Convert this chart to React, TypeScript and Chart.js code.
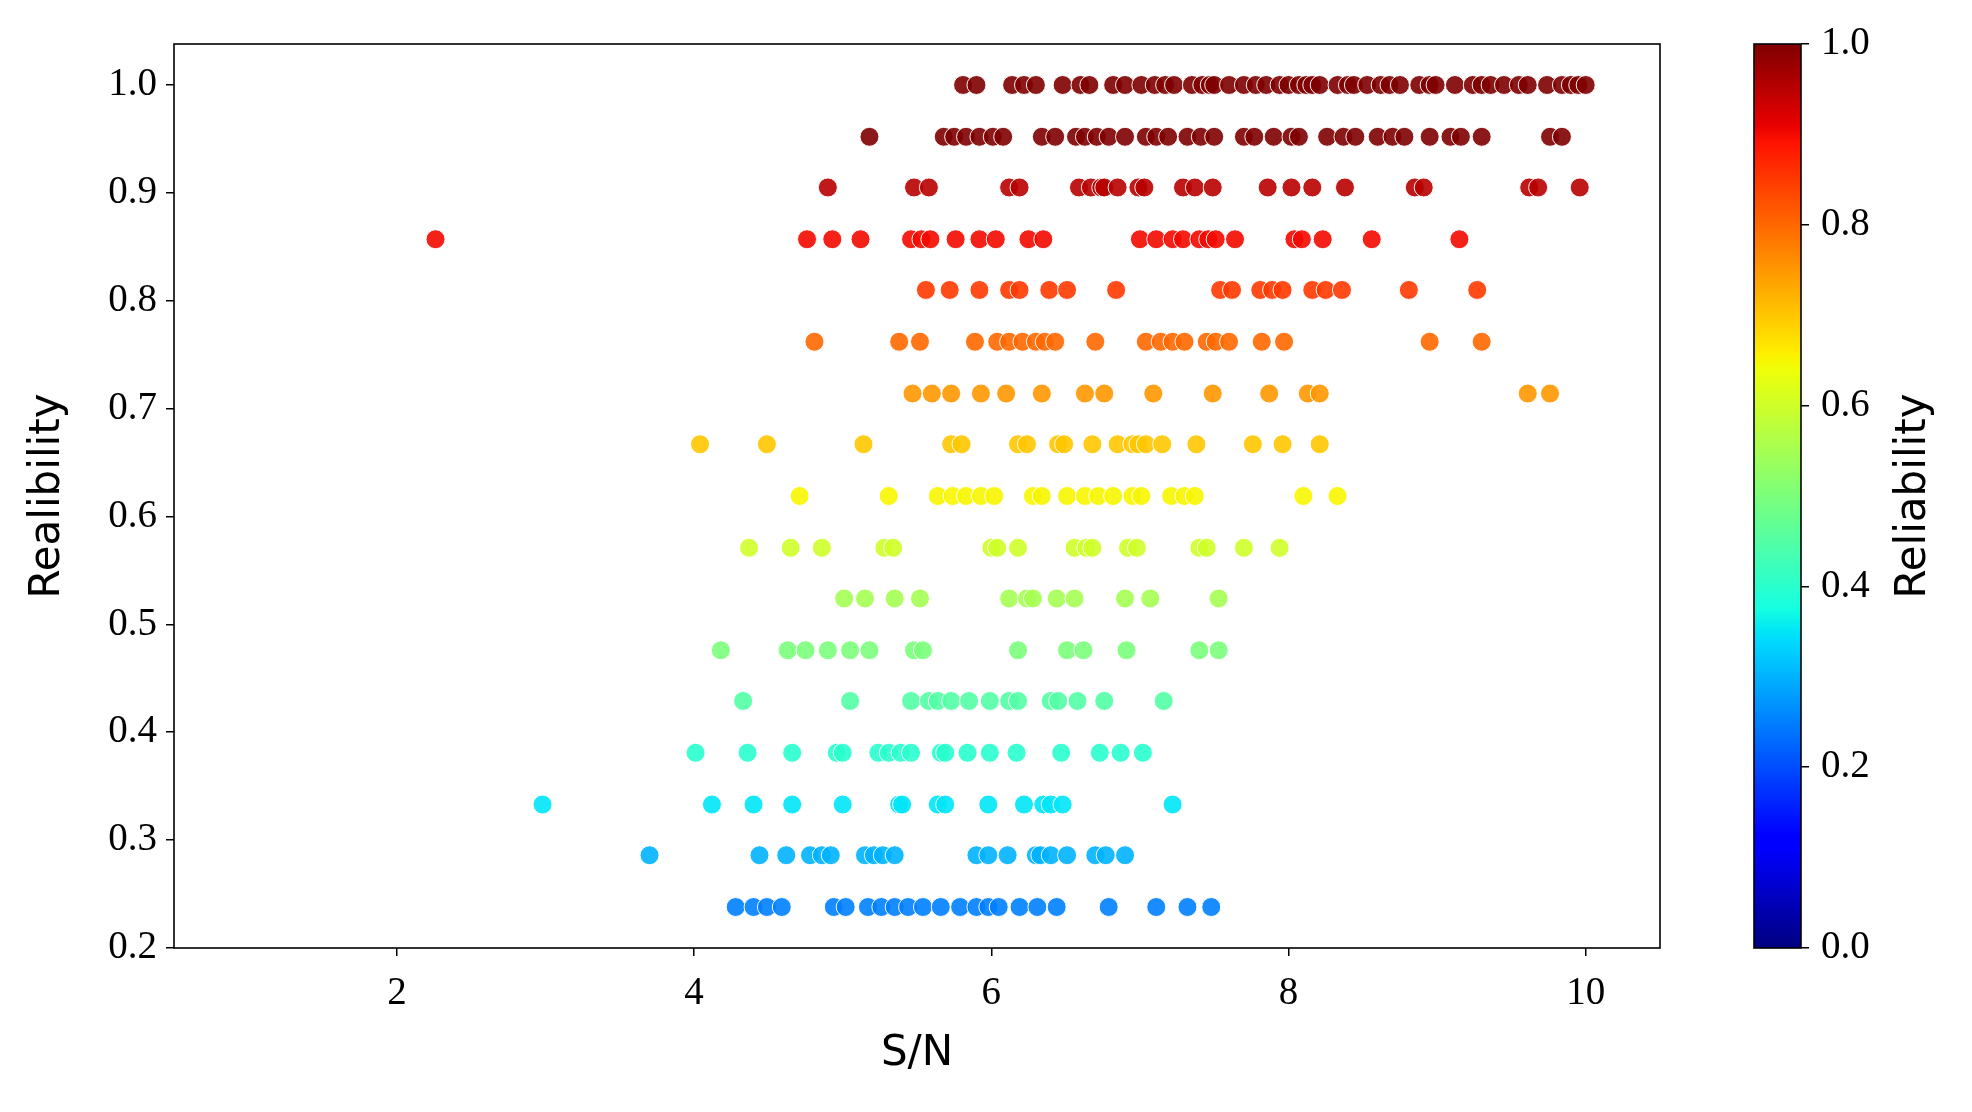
import React, { useEffect, useRef } from "react";
import { Chart, registerables } from "chart.js";
Chart.register(...registerables);

// Reliability levels (rows), the colour value used for each row, and S/N values of the points in each row
const reliabilityLevels = [1.0, 0.952, 0.905, 0.857, 0.81, 0.762, 0.714, 0.667, 0.619, 0.571, 0.524, 0.476, 0.429, 0.381, 0.333, 0.286, 0.238];
const colourValues = [1.0, 1.0, 0.95, 0.9, 0.85, 0.8, 0.75, 0.7, 0.65, 0.6, 0.55, 0.5, 0.45, 0.4, 0.35, 0.3, 0.25];

const sn_r1000 = [5.81, 5.9, 6.14, 6.22, 6.3, 6.48, 6.6, 6.66, 6.82, 6.9, 7.01, 7.1, 7.17, 7.23, 7.35, 7.42, 7.47, 7.5, 7.6, 7.7, 7.78, 7.85, 7.94, 8.0, 8.07, 8.12, 8.16, 8.21, 8.33, 8.4, 8.44, 8.53, 8.62, 8.68, 8.75, 8.88, 8.95, 8.99, 9.12, 9.24, 9.3, 9.36, 9.45, 9.55, 9.61, 9.74, 9.84, 9.9, 9.95, 10.0];
const sn_r0952 = [5.18, 5.68, 5.75, 5.83, 5.92, 6.01, 6.08, 6.34, 6.43, 6.57, 6.63, 6.71, 6.79, 6.9, 7.04, 7.11, 7.19, 7.32, 7.41, 7.5, 7.7, 7.77, 7.9, 8.02, 8.07, 8.26, 8.37, 8.45, 8.6, 8.7, 8.78, 8.95, 9.09, 9.16, 9.3, 9.76, 9.84];
const sn_r0905 = [4.9, 5.48, 5.58, 6.12, 6.19, 6.59, 6.67, 6.74, 6.76, 6.85, 6.99, 7.03, 7.29, 7.37, 7.49, 7.86, 8.02, 8.16, 8.38, 8.85, 8.91, 9.62, 9.68, 9.96];
const sn_r0857 = [2.26, 4.76, 4.93, 5.12, 5.46, 5.53, 5.59, 5.76, 5.92, 6.03, 6.25, 6.35, 7.0, 7.11, 7.22, 7.29, 7.4, 7.46, 7.51, 7.64, 8.04, 8.09, 8.23, 8.56, 9.15];
const sn_r0810 = [5.56, 5.72, 5.92, 6.12, 6.19, 6.39, 6.51, 6.84, 7.54, 7.62, 7.81, 7.89, 7.96, 8.16, 8.25, 8.36, 8.81, 9.27];
const sn_r0762 = [4.81, 5.38, 5.52, 5.89, 6.04, 6.12, 6.21, 6.3, 6.36, 6.43, 6.7, 7.04, 7.14, 7.22, 7.3, 7.45, 7.51, 7.6, 7.82, 7.97, 8.95, 9.3];
const sn_r0714 = [5.47, 5.6, 5.73, 5.93, 6.1, 6.34, 6.63, 6.76, 7.09, 7.49, 7.87, 8.13, 8.21, 9.61, 9.76];
const sn_r0667 = [4.04, 4.49, 5.14, 5.73, 5.8, 6.18, 6.24, 6.45, 6.49, 6.68, 6.85, 6.95, 6.99, 7.04, 7.15, 7.38, 7.76, 7.96, 8.21];
const sn_r0619 = [4.71, 5.31, 5.64, 5.74, 5.83, 5.93, 6.02, 6.28, 6.34, 6.51, 6.63, 6.72, 6.82, 6.95, 7.01, 7.21, 7.3, 7.37, 8.1, 8.33];
const sn_r0571 = [4.37, 4.65, 4.86, 5.28, 5.34, 6.0, 6.04, 6.18, 6.56, 6.64, 6.68, 6.92, 6.98, 7.4, 7.45, 7.7, 7.94];
const sn_r0524 = [5.01, 5.15, 5.35, 5.52, 6.12, 6.24, 6.28, 6.44, 6.56, 6.9, 7.07, 7.53];
const sn_r0476 = [4.18, 4.63, 4.75, 4.9, 5.05, 5.18, 5.48, 5.54, 6.18, 6.51, 6.62, 6.91, 7.4, 7.53];
const sn_r0429 = [4.33, 5.05, 5.46, 5.58, 5.64, 5.73, 5.85, 5.99, 6.12, 6.18, 6.4, 6.45, 6.58, 6.76, 7.16];
const sn_r0381 = [4.01, 4.36, 4.66, 4.96, 5.0, 5.24, 5.31, 5.39, 5.46, 5.66, 5.69, 5.84, 5.99, 6.17, 6.47, 6.73, 6.87, 7.02];
const sn_r0333 = [2.98, 4.12, 4.4, 4.66, 5.0, 5.38, 5.4, 5.64, 5.69, 5.98, 6.22, 6.35, 6.4, 6.48, 7.22];
const sn_r0286 = [3.7, 4.44, 4.62, 4.78, 4.86, 4.92, 5.15, 5.21, 5.27, 5.35, 5.9, 5.98, 6.11, 6.3, 6.33, 6.4, 6.51, 6.7, 6.77, 6.9];
const sn_r0238 = [4.28, 4.4, 4.49, 4.59, 4.94, 5.02, 5.17, 5.26, 5.35, 5.44, 5.54, 5.66, 5.79, 5.9, 5.98, 6.05, 6.19, 6.31, 6.44, 6.79, 7.11, 7.32, 7.48];

const snRows = [sn_r1000, sn_r0952, sn_r0905, sn_r0857, sn_r0810, sn_r0762, sn_r0714, sn_r0667, sn_r0619, sn_r0571, sn_r0524, sn_r0476, sn_r0429, sn_r0381, sn_r0333, sn_r0286, sn_r0238];

const xTickValues = [2, 4, 6, 8, 10];
const yTickValues = [0.2, 0.3, 0.4, 0.5, 0.6, 0.7, 0.8, 0.9, 1.0];
const cbTickValues = [0.0, 0.2, 0.4, 0.6, 0.8, 1.0];

// jet colormap segments
const JET_R = [[0, 0], [0.35, 0], [0.66, 1], [0.89, 1], [1, 0.5]];
const JET_G = [[0, 0], [0.125, 0], [0.375, 1], [0.64, 1], [0.91, 0], [1, 0]];
const JET_B = [[0, 0.5], [0.11, 1], [0.34, 1], [0.65, 0], [1, 0]];
const JET_STOPS = [0, 0.11, 0.125, 0.34, 0.35, 0.375, 0.64, 0.65, 0.66, 0.89, 0.91, 1];

function seg(pts: number[][], v: number) {
  if (v <= pts[0][0]) return pts[0][1];
  for (let i = 1; i < pts.length; i++) {
    if (v <= pts[i][0]) {
      const [x0, y0] = pts[i - 1];
      const [x1, y1] = pts[i];
      return y0 + ((v - x0) / (x1 - x0)) * (y1 - y0);
    }
  }
  return pts[pts.length - 1][1];
}
function jet(v: number, a = 1) {
  const r = Math.round(seg(JET_R, v) * 255);
  const g = Math.round(seg(JET_G, v) * 255);
  const b = Math.round(seg(JET_B, v) * 255);
  return `rgba(${r},${g},${b},${a})`;
}

const W = 1972;
const H = 1112;
const TICK_FONT = { family: "'Liberation Serif', 'DejaVu Serif', serif", size: 39 };
const TITLE_FONT = { family: "'DejaVu Sans', sans-serif", size: 42 };

export default function App() {
  const mainRef = useRef<HTMLCanvasElement | null>(null);
  const cbRef = useRef<HTMLCanvasElement | null>(null);

  useEffect(() => {
    document.body.style.margin = "0";
    const points: { x: number; y: number; c: number }[] = [];
    reliabilityLevels.forEach((r, i) => {
      snRows[i].forEach((x) => points.push({ x, y: r, c: colourValues[i] }));
    });

    const framePlugin = {
      id: "frame",
      afterDraw(chart: any) {
        const { ctx, chartArea } = chart;
        ctx.save();
        ctx.strokeStyle = "#000";
        ctx.lineWidth = 1.6;
        ctx.strokeRect(chartArea.left, chartArea.top, chartArea.right - chartArea.left, chartArea.bottom - chartArea.top);
        ctx.restore();
      },
    };

    const main = new Chart(mainRef.current as HTMLCanvasElement, {
      type: "scatter",
      data: {
        datasets: [
          {
            data: points,
            pointRadius: 9.5,
            pointHoverRadius: 9.5,
            borderWidth: 1,
            borderColor: "rgba(255,255,255,0.95)",
            backgroundColor: (c: any) => jet(c.raw ? c.raw.c : 0, 0.9),
          },
        ],
      },
      options: {
        responsive: false,
        animation: false,
        devicePixelRatio: 1,
        layout: { padding: { top: 44, right: W - 1660, left: 0, bottom: 0 } },
        plugins: { legend: { display: false }, tooltip: { enabled: false } },
        scales: {
          x: {
            type: "linear",
            min: 0.5,
            max: 10.5,
            afterBuildTicks: (s: any) => {
              s.ticks = xTickValues.map((v) => ({ value: v }));
            },
            afterFit: (s: any) => {
              s.height = H - 948;
            },
            border: { display: false },
            grid: { display: true, drawOnChartArea: false, drawTicks: true, tickLength: 8, color: "#000", lineWidth: 1.5 },
            ticks: { color: "#000", font: TICK_FONT, padding: 14, maxRotation: 0, callback: (v: any) => String(v) },
            title: { display: true, text: "S/N", color: "#000", font: TITLE_FONT, padding: { top: 0, bottom: 33 } },
          },
          y: {
            type: "linear",
            min: 0.2,
            max: 1.038,
            afterBuildTicks: (s: any) => {
              s.ticks = yTickValues.map((v) => ({ value: v }));
            },
            afterFit: (s: any) => {
              s.width = 174;
            },
            border: { display: false },
            grid: { display: true, drawOnChartArea: false, drawTicks: true, tickLength: 8, color: "#000", lineWidth: 1.5 },
            ticks: { color: "#000", font: TICK_FONT, padding: 9, callback: (v: any) => Number(v).toFixed(1) },
            title: { display: true, text: "Realibility", color: "#000", font: TITLE_FONT, padding: { top: 23, bottom: 0 } },
          },
        },
      },
      plugins: [framePlugin],
    } as any);

    const cbPlugin = {
      id: "colorbar",
      beforeDatasetsDraw(chart: any) {
        const { ctx, chartArea } = chart;
        const g = ctx.createLinearGradient(0, chartArea.bottom, 0, chartArea.top);
        JET_STOPS.forEach((s) => g.addColorStop(s, jet(s, 1)));
        ctx.save();
        ctx.fillStyle = g;
        ctx.fillRect(chartArea.left, chartArea.top, chartArea.right - chartArea.left, chartArea.bottom - chartArea.top);
        ctx.restore();
      },
      afterDraw(chart: any) {
        const { ctx, chartArea } = chart;
        ctx.save();
        ctx.strokeStyle = "#000";
        ctx.lineWidth = 1.6;
        ctx.strokeRect(chartArea.left, chartArea.top, chartArea.right - chartArea.left, chartArea.bottom - chartArea.top);
        ctx.translate(1914, (chartArea.top + chartArea.bottom) / 2);
        ctx.rotate(-Math.PI / 2);
        ctx.fillStyle = "#000";
        ctx.font = `${TITLE_FONT.size}px ${TITLE_FONT.family}`;
        ctx.textAlign = "center";
        ctx.textBaseline = "middle";
        ctx.fillText("Reliability", 0, 0);
        ctx.restore();
      },
    };

    const cb = new Chart(cbRef.current as HTMLCanvasElement, {
      type: "scatter",
      data: { datasets: [] },
      options: {
        responsive: false,
        animation: false,
        devicePixelRatio: 1,
        layout: { padding: { top: 44, left: 1754, right: 0, bottom: H - 948 } },
        plugins: { legend: { display: false }, tooltip: { enabled: false } },
        scales: {
          x: { type: "linear", display: false, min: 0, max: 1 },
          y: {
            type: "linear",
            position: "right",
            min: 0,
            max: 1,
            afterBuildTicks: (s: any) => {
              s.ticks = cbTickValues.map((v) => ({ value: v }));
            },
            afterFit: (s: any) => {
              s.width = W - 1801;
            },
            border: { display: false },
            grid: { display: true, drawOnChartArea: false, drawTicks: true, tickLength: 8, color: "#000", lineWidth: 1.5 },
            ticks: { color: "#000", font: TICK_FONT, padding: 12, callback: (v: any) => Number(v).toFixed(1) },
          },
        },
      },
      plugins: [cbPlugin],
    } as any);

    return () => {
      main.destroy();
      cb.destroy();
    };
  }, []);

  return (
    <div style={{ position: "relative", width: W, height: H, background: "#fff" }}>
      <canvas ref={mainRef} width={W} height={H} style={{ position: "absolute", left: 0, top: 0 }} />
      <canvas ref={cbRef} width={W} height={H} style={{ position: "absolute", left: 0, top: 0 }} />
    </div>
  );
}
